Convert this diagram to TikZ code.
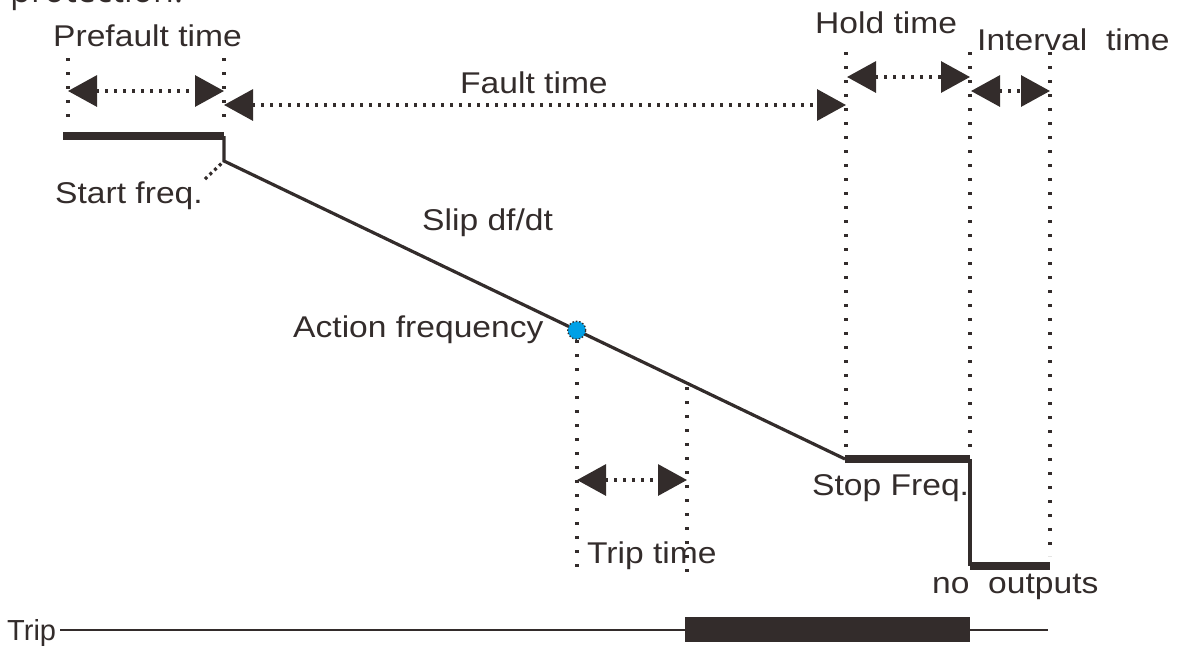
\documentclass[tikz,border=0pt]{standalone}
\usepackage{fontspec}
\setmainfont{Liberation Sans}[FakeStretch=1.12]
\newfontfamily\plainfont{Liberation Sans}
\newfontfamily\headfont{Open Sans}
\usepackage{tikz}
\usetikzlibrary{calc,arrows.meta}
\definecolor{inkx}{HTML}{332C2B}
\definecolor{bluex}{HTML}{00A0E6}
\tikzset{
  lbl/.style={inner sep=0pt,anchor=base west,text=inkx,font=\fontsize{30}{36}\selectfont},
  lvl/.style={line width=8pt,inkx},
  ramp/.style={line width=3.2pt,inkx},
  guide/.style={inkx,line width=3.2pt,dash pattern=on 3.2pt off 10.8pt},
  span/.style={<->,>={Triangle[length=29pt,width=31pt]},inkx,line width=3.2pt,dash pattern=on 3.2pt off 5.8pt}
}
\begin{document}
\begin{tikzpicture}[x=1pt,y=-1pt]
\useasboundingbox (0,0) rectangle (1183,646);
\clip (0,0) rectangle (1183,646);
\node[inner sep=0pt,anchor=base west,text=inkx,font=\headfont\fontsize{34}{40}\selectfont] (head) at (10,2) {protection.};
% frequency curve
\coordinate (s0) at (63,136); \coordinate (s1) at (224,136);
\coordinate (r0) at (224,161); \coordinate (r1) at (845,459);
\coordinate (h1) at (970,459);
\coordinate (n0) at (970,566); \coordinate (n1) at (1050,566);
\draw[lvl] (s0) -- (s1);
\draw[ramp] (s1) -- (r0) -- (r1);
\draw[lvl] (r1) -- (h1);
\draw[ramp] (h1) -- (n0);
\draw[lvl] (n0) -- (n1);
% guides
\draw[guide] (68,58) -- (68,118);
\draw[guide] (224,58) -- (224,118);
\draw[guide] (846,52) -- (846,455);
\draw[guide] (970,52) -- (970,455);
\draw[guide] (1050,52) -- (1050,556);
\coordinate (act) at ($(r0)!0.568!(r1)$);
\draw[guide] (577,340) -- (577,574);
\draw[guide] (687,387) -- (687,576);
\node[circle,fill=bluex,draw=inkx,dotted,line width=1.4pt,minimum size=18pt,inner sep=0pt] (dot) at (act) {};
% spans
\draw[span] (68,91) -- (224,91);
\draw[span] (224,105) -- (846,105);
\draw[span] (847,77) -- (970,77);
\draw[span] (971,91) -- (1050,91);
\draw[span] (577,480) -- (687,480);
% trip signal
\draw[inkx,line width=2.8pt] (60,630) -- (1048,630);
\fill[inkx] (685,617) rectangle (970,642);
% labels
\node[lbl] (prefault) at (53,46) {Prefault time};
\node[lbl] (fault) at (460,93) {Fault time};
\node[lbl] (hold) at (815,33) {Hold time};
\node[lbl] (interval) at (977,50) {Interval\ \ time};
\node[lbl] (start) at (55,203) {Start freq.};
\draw[guide,dash pattern=on 3pt off 3.5pt] (start.north east) ++(2,-2) -- (r0);
\node[lbl] (slip) at (422,230) {Slip df/dt};
\node[lbl] (action) at (293,337) {Action frequency};
\node[lbl] (triptime) at (587,563) {Trip time};
\node[lbl] (stop) at (812,495) {Stop Freq.};
\node[lbl] (noout) at (932,593) {no\ \ outputs};
\node[lbl,font=\plainfont\fontsize{29}{34}\selectfont] (trip) at (7,640) {Trip};
\end{tikzpicture}
\end{document}
